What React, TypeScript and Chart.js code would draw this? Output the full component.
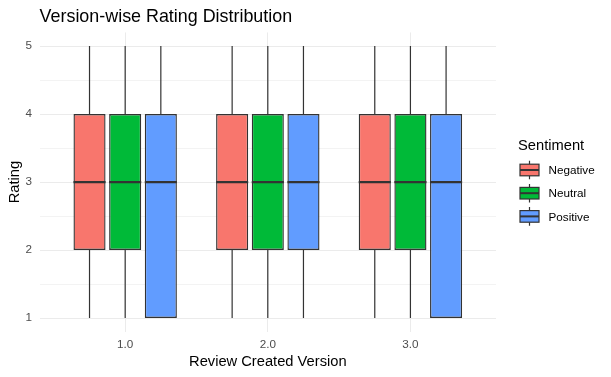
import React, { useEffect, useRef } from 'react';
import { Chart, registerables } from 'chart.js';

Chart.register(...registerables);

const versions = ['1.0', '2.0', '3.0'];
const versionPos = [1, 2, 3];
const sentiments = ['Negative', 'Neutral', 'Positive'];
const colors = ['#F8766D', '#00BA38', '#619CFF'];
const yTicks = [1, 1.5, 2, 2.5, 3, 3.5, 4, 4.5, 5];

const negativeMin = [1, 1, 1];
const negativeQ1 = [2, 2, 2];
const negativeMedian = [3, 3, 3];
const negativeQ3 = [4, 4, 4];
const negativeMax = [5, 5, 5];

const neutralMin = [1, 1, 1];
const neutralQ1 = [2, 2, 2];
const neutralMedian = [3, 3, 3];
const neutralQ3 = [4, 4, 4];
const neutralMax = [5, 5, 5];

const positiveMin = [1, 1, 1];
const positiveQ1 = [1, 2, 1];
const positiveMedian = [3, 3, 3];
const positiveQ3 = [4, 4, 4];
const positiveMax = [5, 5, 5];

const stats = [
  { min: negativeMin, q1: negativeQ1, med: negativeMedian, q3: negativeQ3, max: negativeMax },
  { min: neutralMin, q1: neutralQ1, med: neutralMedian, q3: neutralQ3, max: neutralMax },
  { min: positiveMin, q1: positiveQ1, med: positiveMedian, q3: positiveQ3, max: positiveMax },
];

const FONT = "'Liberation Sans', Arial, sans-serif";
const LINE = '#333333';

const boxPlugin = {
  id: 'boxWhiskers',
  beforeDatasetsDraw(chart: any) {
    const ctx = chart.ctx;
    const y = chart.scales.y;
    ctx.save();
    ctx.strokeStyle = LINE;
    ctx.lineWidth = 1.2;
    chart.data.datasets.forEach((ds: any, d: number) => {
      const meta = chart.getDatasetMeta(d);
      meta.data.forEach((el: any, i: number) => {
        const s = ds.stats;
        const x = el.x;
        ctx.beginPath();
        ctx.moveTo(x, y.getPixelForValue(s.q3[i]));
        ctx.lineTo(x, y.getPixelForValue(s.max[i]));
        ctx.moveTo(x, y.getPixelForValue(s.q1[i]));
        ctx.lineTo(x, y.getPixelForValue(s.min[i]));
        ctx.stroke();
      });
    });
    ctx.restore();
  },
  afterDatasetsDraw(chart: any) {
    const ctx = chart.ctx;
    const y = chart.scales.y;
    ctx.save();
    ctx.strokeStyle = LINE;
    ctx.lineWidth = 2.2;
    chart.data.datasets.forEach((ds: any, d: number) => {
      const meta = chart.getDatasetMeta(d);
      meta.data.forEach((el: any, i: number) => {
        const s = ds.stats;
        const py = y.getPixelForValue(s.med[i]);
        ctx.beginPath();
        ctx.moveTo(el.x - el.width / 2, py);
        ctx.lineTo(el.x + el.width / 2, py);
        ctx.stroke();
      });
    });
    ctx.restore();
  },
  afterDraw(chart: any) {
    const ctx = chart.ctx;
    const left = chart.chartArea.right + 22;
    ctx.save();
    ctx.fillStyle = '#000000';
    ctx.font = `14.7px ${FONT}`;
    ctx.textAlign = 'left';
    ctx.textBaseline = 'middle';
    ctx.fillText('Sentiment', left, 146);
    sentiments.forEach((name, i) => {
      const cy = 170 + i * 23.2;
      const bx = left + 2;
      const bw = 19;
      const cx = bx + bw / 2;
      ctx.strokeStyle = LINE;
      ctx.lineWidth = 1.2;
      ctx.beginPath();
      ctx.moveTo(cx, cy - 9.3);
      ctx.lineTo(cx, cy - 5.8);
      ctx.moveTo(cx, cy + 5.8);
      ctx.lineTo(cx, cy + 9.3);
      ctx.stroke();
      ctx.fillStyle = colors[i];
      ctx.fillRect(bx, cy - 5.8, bw, 11.6);
      ctx.strokeRect(bx, cy - 5.8, bw, 11.6);
      ctx.lineWidth = 2;
      ctx.beginPath();
      ctx.moveTo(bx, cy);
      ctx.lineTo(bx + bw, cy);
      ctx.stroke();
      ctx.fillStyle = '#000000';
      ctx.font = `11.7px ${FONT}`;
      ctx.fillText(name, left + 30.5, cy + 1);
    });
    ctx.restore();
  },
};

export default function App() {
  const ref = useRef<HTMLCanvasElement>(null);
  useEffect(() => {
    if (!ref.current) return;
    const chart = new Chart(ref.current, {
      type: 'bar',
      data: {
        datasets: sentiments.map((name, d) => ({
          label: name,
          stats: stats[d],
          data: versionPos.map((x, i) => ({ x, y: [stats[d].q1[i], stats[d].q3[i]] })),
          backgroundColor: colors[d],
          borderColor: LINE,
          borderWidth: 1.4,
          borderSkipped: false,
          categoryPercentage: 0.75,
          barPercentage: 0.9,
        })) as any,
      },
      options: {
        animation: false,
        responsive: false,
        layout: { padding: { left: 0, right: 115, top: 0, bottom: 0 } },
        plugins: {
          legend: { display: false },
          tooltip: { enabled: false },
          title: {
            display: true,
            text: 'Version-wise Rating Distribution',
            align: 'start',
            fullSize: false,
            color: '#000000',
            font: { family: FONT, size: 17.9, weight: 'normal' },
            padding: { top: 6, bottom: 5 },
          },
        },
        scales: {
          x: {
            type: 'linear',
            min: 0.4,
            max: 3.6,
            offset: false,
            afterBuildTicks: (scale: any) => {
              scale.ticks = versionPos.map((v) => ({ value: v }));
            },
            afterFit: (scale: any) => {
              scale.height = 45.4;
            },
            ticks: {
              callback: (v: any) => versions[versionPos.indexOf(Number(v))] ?? '',
              color: '#4D4D4D',
              font: { family: FONT, size: 11.7 },
              padding: 6,
              maxRotation: 0,
              autoSkip: false,
            },
            grid: { color: '#EBEBEB', lineWidth: 1, drawTicks: false, offset: false },
            border: { display: false },
            title: {
              display: true,
              text: 'Review Created Version',
              color: '#000000',
              font: { family: FONT, size: 14.7 },
              padding: { top: 0, bottom: 6.5 },
            },
          },
          y: {
            type: 'linear',
            min: 0.8,
            max: 5.2,
            afterBuildTicks: (scale: any) => {
              scale.ticks = yTicks.map((v) => ({ value: v }));
            },
            afterFit: (scale: any) => {
              scale.width = 39.6;
            },
            ticks: {
              callback: (v: any) => (Number(v) % 1 === 0 ? String(v) : ''),
              color: '#4D4D4D',
              font: { family: FONT, size: 11.7 },
              padding: 7.5,
              autoSkip: false,
            },
            grid: {
              color: (c: any) => (c.tick && c.tick.value % 1 === 0 ? '#EBEBEB' : '#F3F3F3'),
              lineWidth: 1,
              drawTicks: false,
            },
            border: { display: false },
            title: {
              display: true,
              text: 'Rating',
              color: '#000000',
              font: { family: FONT, size: 14.7 },
              padding: { top: 6, bottom: 0 },
            },
          },
        },
      },
      plugins: [boxPlugin],
    } as any);
    return () => chart.destroy();
  }, []);
  return (
    <div style={{ position: 'fixed', left: 0, top: 0, width: 611, height: 377, background: '#ffffff' }}>
      <canvas ref={ref} width={611} height={377} style={{ display: 'block' }} />
    </div>
  );
}
